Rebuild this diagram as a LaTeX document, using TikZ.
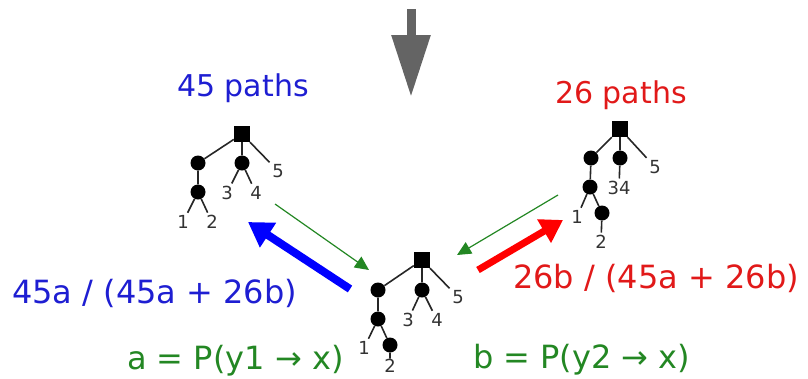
\documentclass[tikz,border=0pt]{standalone}
\usepackage{fontspec}
\setmainfont{DejaVu Sans}
\usetikzlibrary{arrows.meta}
\definecolor{pathblue}{RGB}{30,30,210}
\definecolor{pathred}{RGB}{225,25,25}
\definecolor{probgreen}{RGB}{35,135,35}
\definecolor{downgray}{RGB}{100,100,100}

\begin{document}
\begin{tikzpicture}[x=1pt, y=-1pt,
    rootbox/.style={fill=black, minimum size=16pt, inner sep=0pt},
    treedot/.style={circle, fill=black, minimum size=15pt, inner sep=0pt},
    leaf/.style={inner sep=2.5pt, font=\fontsize{18}{18}\selectfont, text=black!80},
    treeline/.style={line width=1.6pt, black!85},
    titletext/.style={inner sep=0pt, anchor=base west, font=\fontsize{30}{30}\selectfont},
    bigtext/.style={inner sep=0pt, anchor=base west, font=\fontsize{32}{32}\selectfont}]
  \useasboundingbox (0,0) rectangle (808,378);

  % Down arrow
  \coordinate (down-top) at (411,9);
  \coordinate (down-tip) at (411,97);
  \draw[downgray, line width=9pt, -{Triangle[length=62pt,width=37pt]}] (down-top) -- (down-tip);

  % Left tree
  \begin{scope}[shift={(242,134)}]
    \node[rootbox] (L-root) at (0,0) {};
    \node[treedot] (L-a) at (-44,29) {};
    \node[treedot] (L-b) at (0,29) {};
    \node[treedot] (L-aa) at (-44,58) {};
    \node[leaf] (L-1) at (-59,88) {1};
    \node[leaf] (L-2) at (-30,88) {2};
    \node[leaf] (L-3) at (-15,59) {3};
    \node[leaf] (L-4) at (14,59) {4};
    \node[leaf] (L-5) at (36,37) {5};
  \end{scope}
  \draw[treeline] (L-root) -- (L-a) (L-root) -- (L-b) (L-root) -- (L-5)
    (L-a) -- (L-aa) (L-aa) -- (L-1) (L-aa) -- (L-2)
    (L-b) -- (L-3) (L-b) -- (L-4);
  \node[titletext, pathblue] (L-title) at (177,96) {45 paths};

  % Right tree
  \begin{scope}[shift={(620,129)}]
    \node[rootbox] (R-root) at (0,0) {};
    \node[treedot] (R-a) at (-29,29) {};
    \node[treedot] (R-b) at (0,29) {};
    \node[treedot] (R-aa) at (-30,58) {};
    \node[treedot] (R-ab) at (-18,84) {};
    \node[leaf] (R-1) at (-43,88) {1};
    \node[leaf] (R-2) at (-19,113) {2};
    \node[leaf] (R-34) at (-1,59) {34};
    \node[leaf] (R-5) at (35,38) {5};
  \end{scope}
  \draw[treeline] (R-root) -- (R-a) (R-root) -- (R-b) (R-root) -- (R-5)
    (R-a) -- (R-aa) (R-aa) -- (R-1) (R-aa) -- (R-ab) (R-ab) -- (R-2)
    (R-b) -- (R-34);
  \node[titletext, pathred] (R-title) at (555,103) {26 paths};

  % Bottom tree
  \begin{scope}[shift={(422,260)}]
    \node[rootbox] (B-root) at (0,0) {};
    \node[treedot] (B-a) at (-44,30) {};
    \node[treedot] (B-b) at (0,30) {};
    \node[treedot] (B-aa) at (-44,59) {};
    \node[treedot] (B-ab) at (-32,85) {};
    \node[leaf] (B-1) at (-58,88) {1};
    \node[leaf, inner sep=0.5pt] (B-2) at (-32,106) {2};
    \node[leaf] (B-3) at (-14,60) {3};
    \node[leaf] (B-4) at (15,60) {4};
    \node[leaf] (B-5) at (36,37) {5};
  \end{scope}
  \draw[treeline] (B-root) -- (B-a) (B-root) -- (B-b) (B-root) -- (B-5)
    (B-a) -- (B-aa) (B-aa) -- (B-1) (B-aa) -- (B-ab) (B-ab) -- (B-2)
    (B-b) -- (B-3) (B-b) -- (B-4);

  % Arrows between trees
  \coordinate (blue-tail) at (350,289);
  \coordinate (blue-tip) at (248,222);
  \coordinate (red-tail) at (478,270);
  \coordinate (red-tip) at (563,220);
  \coordinate (gl-tail) at (275,204);
  \coordinate (gl-tip) at (369,270);
  \coordinate (gr-tail) at (558,195);
  \coordinate (gr-tip) at (457,255);
  \draw[blue, line width=8pt, -{Triangle[length=24pt,width=28pt]}] (blue-tail) -- (blue-tip);
  \draw[red, line width=7pt, -{Triangle[length=22pt,width=26pt]}] (red-tail) -- (red-tip);
  \draw[probgreen, line width=1.2pt, -{Triangle[length=14pt,width=13pt]}] (gl-tail) -- (gl-tip);
  \draw[probgreen, line width=1.2pt, -{Triangle[length=14pt,width=13pt]}] (gr-tail) -- (gr-tip);

  % Formulas
  \node[bigtext, pathblue] (blue-frac) at (12,303) {45a / (45a + 26b)};
  \node[bigtext, pathred] (red-frac) at (513,288) {26b / (45a + 26b)};
  \node[bigtext, probgreen] (prob-a) at (127,369) {a = P(y1 → x)};
  \node[bigtext, probgreen] (prob-b) at (473,368) {b = P(y2 → x)};
\end{tikzpicture}
\end{document}
